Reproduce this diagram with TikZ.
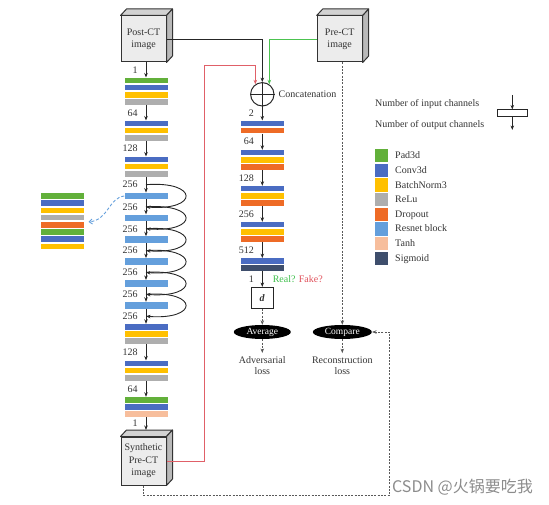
\documentclass[tikz,border=0pt]{standalone}
\usepackage{fontspec}
\setmainfont{Liberation Serif}
\newfontfamily\cjkfont{Noto Sans CJK SC}
\usepackage{xcolor}
\usetikzlibrary{arrows.meta,positioning,shapes.geometric}

\definecolor{padc}{HTML}{62B03A}
\definecolor{convc}{HTML}{4A6CC2}
\definecolor{bnc}{HTML}{FFC000}
\definecolor{reluc}{HTML}{AEAEAE}
\definecolor{dropc}{HTML}{EE6B26}
\definecolor{resc}{HTML}{649FDC}
\definecolor{tanhc}{HTML}{F7BE9C}
\definecolor{sigc}{HTML}{3E4E6C}
\definecolor{realc}{HTML}{3DBE4A}
\definecolor{fakec}{HTML}{E0505A}
\definecolor{redline}{HTML}{E06068}
\definecolor{greenline}{HTML}{4CC350}

% stack of coloured bars: name, x, top y, colours
\newcommand{\layerblock}[4]{%
  \foreach \c [count=\i] in {#4}
    \node[bar, fill=\c] (#1-\i) at (#2, {#3+(\i-1)*7.2+2.75}) {};
}
% top and side faces of an image cube
\newcommand{\cubedepth}[1]{%
  \draw[cubeline, fill=gray!35] (#1.north west) -- ++(6,-6.5) -- ([shift={(6,-6.5)}]#1.north east) -- (#1.north east) -- cycle;
  \draw[cubeline, fill=gray!55] (#1.north east) -- ([shift={(6,-6.5)}]#1.north east) -- ([shift={(6,-6.5)}]#1.south east) -- (#1.south east) -- cycle;
}

\begin{document}
\begin{tikzpicture}[
    x=1pt, y=-1pt,
    font=\fontsize{10}{12.4}\selectfont,
    text=black!80,
    bar/.style={rectangle, inner sep=0pt, minimum width=43pt, minimum height=5.5pt},
    cube/.style={rectangle, draw=black!80, fill=gray!15, line width=1pt, minimum width=45pt, minimum height=46pt, align=center, inner sep=1pt},
    cubeline/.style={draw=black!80, line width=1pt, line join=round},
    arr/.style={-{Stealth[length=4.5pt,width=3.5pt]}, line width=0.9pt, draw=black!85},
    dasharr/.style={arr, dash pattern=on 2pt off 1.3pt, draw=black!65},
    bluedash/.style={-{Straight Barb[length=3pt,width=5pt]}, dash pattern=on 3pt off 2pt, line width=0.9pt, draw=resc},
    chan/.style={midway, left, inner sep=1pt, xshift=-7pt},
    oval/.style={ellipse, fill=black, text=white, inner sep=0pt, minimum width=57pt, minimum height=14pt, font=\fontsize{9.5}{11}\selectfont},
    legsq/.style={rectangle, inner sep=0pt, minimum size=13.3pt},
    legtxt/.style={anchor=west, inner sep=2pt, text height=1.6ex, text depth=.3ex}
  ]
  \useasboundingbox (0,0) rectangle (549,505);

  % image cubes
  \node[cube] (postct) at (143.5,39) {Post-CT\\image};
  \cubedepth{postct}
  \node[cube] (prect) at (339.7,39) {Pre-CT\\image};
  \cubedepth{prect}
  \node[cube, minimum height=48pt] (synth) at (143.5,461) {Synthetic\\Pre-CT\\image};
  \cubedepth{synth}
  \coordinate (synthtop) at ([yshift=6.5pt]synth.north);

  % generator
  \layerblock{B1}{146}{77.7}{padc,convc,bnc,reluc}
  \layerblock{B2}{146}{120.7}{convc,bnc,reluc}
  \layerblock{B3}{146}{156.7}{convc,bnc,reluc}
  \foreach \i in {1,...,6}
    \node[bar, fill=resc, minimum height=6.5pt] (R\i) at (146, {196+(\i-1)*21.85}) {};
  \layerblock{B4}{146}{324}{convc,bnc,reluc}
  \layerblock{B5}{146}{360.7}{convc,bnc,reluc}
  \layerblock{B6}{146}{397}{padc,convc,tanhc}

  \draw[arr] (postct.south -| B1-1.north) -- node[chan]{1} (B1-1.north);
  \draw[arr] (B1-4.south) -- node[chan]{64} (B2-1.north);
  \draw[arr] (B2-3.south) -- node[chan]{128} (B3-1.north);
  \draw[arr] (B3-3.south) -- node[chan]{256} coordinate[midway] (s1) (R1.north);
  \foreach \i [evaluate=\i as \j using int(\i+1)] in {1,...,5}
    \draw[arr] (R\i.south) -- node[chan]{256} coordinate[midway] (s\j) (R\j.north);
  \draw[arr] (R6.south) -- node[chan]{256} coordinate[midway] (s7) (B4-1.north);
  \draw[arr] (B4-3.south) -- node[chan]{128} (B5-1.north);
  \draw[arr] (B5-3.south) -- node[chan]{64} (B6-1.north);
  \draw[arr] (B6-3.south) -- node[chan]{1} (B6-3.south |- synthtop);

  % resnet skips
  \foreach \i [evaluate=\i as \j using int(\i+1)] in {1,...,6}
    \draw[arr] (s\i) .. controls +(53,-4) and +(53,4) .. (s\j);

  % resnet block in detail
  \layerblock{X}{62.2}{193.3}{padc,convc,bnc,reluc,dropc,padc,convc,bnc}
  \coordinate (xin) at ([xshift=4.7pt]X-5.north east);
  \draw[bluedash] (R1.west) .. controls +(-16,2) and +(20,-2) .. (xin);

  % discriminator
  \node[circle, draw=black!85, line width=1pt, minimum size=23.4pt, inner sep=0pt] (cat) at (262.3,94.3) {};
  \draw[line width=1pt, black!85] (cat.north) -- (cat.south) (cat.west) -- (cat.east);
  \node[right, inner sep=1pt, xshift=3pt] (catlbl) at (cat.east) {Concatenation};

  \draw[arr] (postct.east) -| (cat.north);
  \draw[arr, draw=greenline] (prect.west) -| (cat.55);
  \coordinate (redturn) at (204.7,65.7);
  \draw[arr, draw=redline] (synth.east) -| (redturn) -| (cat.125);

  \layerblock{M1}{262.3}{120.7}{convc,dropc}
  \layerblock{M2}{262.3}{150}{convc,bnc,dropc}
  \layerblock{M3}{262.3}{186}{convc,bnc,dropc}
  \layerblock{M4}{262.3}{222}{convc,bnc,dropc}
  \layerblock{M5}{262.3}{258.3}{convc,sigc}
  \node[rectangle, draw=black!85, line width=1.1pt, minimum width=22pt, minimum height=21pt, inner sep=0pt] (d) at (262.3,298) {\textbf{\textit{d}}};

  \draw[arr] (cat.south) -- node[chan]{2} (M1-1.north);
  \draw[arr] (M1-2.south) -- node[chan]{64} (M2-1.north);
  \draw[arr] (M2-3.south) -- node[chan]{128} (M3-1.north);
  \draw[arr] (M3-3.south) -- node[chan]{256} (M4-1.north);
  \draw[arr] (M4-3.south) -- node[chan]{512} (M5-1.north);
  \draw[arr] (M5-2.south) -- node[chan]{1}
    node[midway, right, inner sep=1pt, xshift=9pt]{\textcolor{realc}{Real?} \textcolor{fakec}{Fake?}} (d.north);

  % losses
  \node[oval] (avg) at (262.3,332) {Average};
  \node[oval, minimum width=59pt] (cmp) at (342.3,332) {Compare};
  \node[align=center, font=\fontsize{10}{11.3}\selectfont] (advloss) at (262.3,365.7) {Adversarial\\loss};
  \node[align=center, font=\fontsize{10}{11.3}\selectfont] (recloss) at (342.3,365.7) {Reconstruction\\loss};
  \draw[dasharr] (d.south) -- (avg.north);
  \draw[dasharr] (avg.south) -- (advloss.north);
  \draw[dasharr] (cmp.north |- prect.south) -- (cmp.north);
  \draw[dasharr] (cmp.south) -- (recloss.north);
  \coordinate (loopcorner) at (389.5,495.5);
  \draw[dasharr] (synth.south) |- (loopcorner) |- (cmp.east);

  % legend
  \node[legtxt] (nin) at (373,103.3) {Number of input channels};
  \node[legtxt] (nout) at (373,124.3) {Number of output channels};
  \node[rectangle, draw=black!85, line width=0.9pt, minimum width=30pt, minimum height=6.7pt, inner sep=0pt] (legbox) at (512.3,113.3) {};
  \coordinate (legtop) at (512.3,95);
  \coordinate (legbot) at (512.3,130);
  \draw[arr] (legtop) -- (legbox.north);
  \draw[arr] (legbox.south) -- (legbot);

  \foreach \c/\t [count=\i] in {padc/Pad3d, convc/Conv3d, bnc/BatchNorm3, reluc/ReLu, dropc/Dropout, resc/Resnet block, tanhc/Tanh, sigc/Sigmoid}
  {
    \node[legsq, fill=\c] (sq\i) at (381.7, {155.7+(\i-1)*14.66}) {};
    \node[legtxt] (lt\i) at (393, {155.7+(\i-1)*14.66}) {\t};
  }

  \node[anchor=west, inner sep=0pt, text=gray!90, font=\cjkfont\fontsize{16}{16}\selectfont] (mark) at (392,487.5) {CSDN @火锅要吃我};
\end{tikzpicture}
\end{document}
